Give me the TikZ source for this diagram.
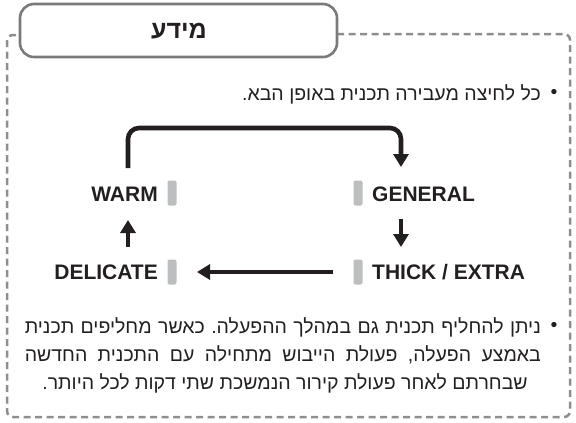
\documentclass[tikz,border=0pt]{standalone}
\usepackage{fontspec}
\setmainfont{Liberation Sans}
\newfontfamily\heb[Script=Hebrew]{Liberation Sans}
\TeXXeTstate=1
\frenchspacing
\usetikzlibrary{arrows.meta}
\definecolor{bordergray}{HTML}{8E8E8E}
\definecolor{boxgray}{HTML}{7A7A7A}
\definecolor{bargray}{HTML}{BDBEC0}
\definecolor{ink}{HTML}{231F20}
\tikzset{
  dashborder/.style={draw=bordergray, line width=2.5pt, dash pattern=on 7pt off 4.5pt},
  titlebox/.style={draw=boxgray, line width=2.6pt, fill=white, rounded corners=14pt},
  bar/.style={fill=bargray, draw=none, rounded corners=2pt, minimum width=9pt, minimum height=25pt, inner sep=0pt},
  label/.style={font=\fontsize{21}{24}\selectfont\bfseries, text=ink, inner sep=0pt},
  body/.style={font=\fontsize{19.5}{23}\selectfont\heb, text=ink, inner sep=0pt},
  flow/.style={draw=ink, line width=4.6pt, -{Triangle[length=13pt,width=15pt]}},
}
\begin{document}
\begin{tikzpicture}[x=1pt,y=-1pt]
\useasboundingbox (0,0) rectangle (576,423);
% dashed frame
\draw[dashborder, rounded corners=6pt] (337,34) -- (570,34) -- (570,417) -- (7,417) -- (7,35) -- (20,35);
% title
\draw[titlebox] (20,4) rectangle (337,57);
\node[font=\fontsize{25}{28}\selectfont\heb\bfseries, text=ink] (title) at (179,31) {\beginR מידע\endR};
% bullet 1
\node[body] (d1) at (554,94) {•};
\node[body, anchor=east] (t1) at (541,94) {\beginR כל לחיצה מעבירה תכנית באופן הבא.\endR};
% diagram
\node[bar] (bw) at (172,193) {};
\node[bar] (bg) at (358,193) {};
\node[bar] (bd) at (172,272) {};
\node[bar] (bt) at (358,272) {};
\node[label, anchor=east] (warm) at (158,194) {WARM};
\node[label, anchor=west] (gen) at (372,194) {GENERAL};
\node[label, anchor=east] (del) at (158,272) {DELICATE};
\node[label, anchor=west] (thick) at (372,272) {THICK / EXTRA};
\coordinate (w0) at (128,168);
\coordinate (g0) at (401,167);
\draw[flow, rounded corners=11pt] (w0) -- (128,128) -- (401,128) -- (g0);
\coordinate (g1) at (401,219);
\coordinate (t0) at (401,247);
\draw[flow] (g1) -- (t0);
\coordinate (d0) at (128,247);
\coordinate (w1) at (128,220);
\draw[flow] (d0) -- (w1);
\coordinate (t1s) at (333,272);
\coordinate (d1e) at (197,272);
\draw[flow] (t1s) -- (d1e);
% bullet 2
\node[body] (d2) at (554,327) {•};
\node[body, anchor=east] (l1) at (541,327) {\hbox to 516pt{\beginR ניתן להחליף תכנית גם במהלך ההפעלה. כאשר מחליפים תכנית\endR}};
\node[body, anchor=east] (l2) at (541,355) {\hbox to 516pt{\beginR באמצע הפעלה, פעולת הייבוש מתחילה עם התכנית החדשה\endR}};
\node[body] (l3) at (285,383) {\beginR שבחרתם לאחר פעולת קירור הנמשכת שתי דקות לכל היותר.\endR};
\end{tikzpicture}
\end{document}
